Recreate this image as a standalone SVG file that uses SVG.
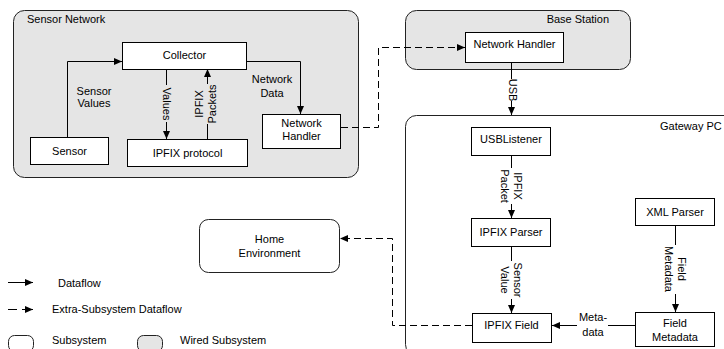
<svg xmlns="http://www.w3.org/2000/svg" width="724" height="349" viewBox="0 0 724 349">
<defs>
<marker id="arr" markerUnits="userSpaceOnUse" markerWidth="9" markerHeight="8" refX="8" refY="4" orient="auto">
<path d="M0,0.5 L8,4 L0,7.5 z" fill="#000"/>
</marker>
<style>
text{font-family:"Liberation Sans",Arial,sans-serif;font-size:11px;fill:#000}
.c{text-anchor:middle}
.sys{fill:#fff;stroke:#222;stroke-width:1}
.wired{fill:#e5e5e5;stroke:#222;stroke-width:1}
.box{fill:#fff;stroke:#000;stroke-width:1}
.flow{fill:none;stroke:#000;stroke-width:1}
.dash{fill:none;stroke:#000;stroke-width:1;stroke-dasharray:7,4}
</style>
</defs>
<rect fill="#fff" x="0" y="0" width="724" height="349"/>

<g id="sensor-network">
<rect class="wired" x="13.5" y="10.5" width="345" height="167" rx="11"/>
<text x="27" y="23">Sensor Network</text>
</g>
<g id="base-station">
<rect class="wired" x="405.5" y="10.5" width="225" height="59" rx="11"/>
<text x="609" y="23" text-anchor="end">Base Station</text>
</g>
<g id="gateway-pc">
<rect class="sys" x="405.5" y="115.5" width="340" height="240" rx="11"/>
<text x="660" y="130">Gateway PC</text>
</g>

<g id="collector">
<rect class="box" x="122.5" y="42.5" width="124" height="27"/>
<text class="c" x="184.5" y="59">Collector</text>
</g>
<g id="sensor">
<rect class="box" x="30.5" y="137.5" width="78" height="27"/>
<text class="c" x="69.5" y="155">Sensor</text>
</g>
<g id="ipfix-protocol">
<rect class="box" x="127.5" y="139.5" width="120" height="27"/>
<text class="c" x="187.5" y="157">IPFIX protocol</text>
</g>
<g id="sn-network-handler">
<rect class="box" x="262.5" y="114.5" width="78" height="34"/>
<text class="c" x="301.5" y="127">Network</text>
<text class="c" x="301.5" y="140">Handler</text>
</g>
<g id="bs-network-handler">
<rect class="box" x="465.5" y="32.5" width="98" height="30"/>
<text class="c" x="514.5" y="48">Network Handler</text>
</g>
<g id="usb-listener">
<rect class="box" x="471.5" y="127.5" width="79" height="28"/>
<text class="c" x="511" y="143">USBListener</text>
</g>
<g id="ipfix-parser">
<rect class="box" x="471.5" y="218.5" width="79" height="28"/>
<text class="c" x="511" y="236">IPFIX Parser</text>
</g>
<g id="ipfix-field">
<rect class="box" x="472.5" y="313.5" width="79" height="29"/>
<text class="c" x="511.5" y="329">IPFIX Field</text>
</g>
<g id="xml-parser">
<rect class="box" x="635.5" y="198.5" width="79" height="27"/>
<text class="c" x="675" y="216">XML Parser</text>
</g>
<g id="field-metadata">
<rect class="box" x="635.5" y="312.5" width="79" height="34"/>
<text class="c" x="675" y="327">Field</text>
<text class="c" x="675" y="341">Metadata</text>
</g>
<g id="home-environment">
<rect class="sys" x="199.5" y="219.5" width="140" height="53" rx="9"/>
<text class="c" x="269.5" y="243">Home</text>
<text class="c" x="269.5" y="257">Environment</text>
</g>

<g id="connectors">
<path class="flow" d="M67.5,137 V61.5 H122" marker-end="url(#arr)"/>
<text class="c" x="94" y="95">Sensor</text>
<text class="c" x="94" y="107">Values</text>

<path class="flow" d="M166.5,69 V85"/>
<path class="flow" d="M166.5,122 V139" marker-end="url(#arr)"/>
<text class="c" transform="translate(166.5,104) rotate(90)" x="0" y="4">Values</text>

<path class="flow" d="M207.5,139 V124"/>
<path class="flow" d="M207.5,84 V69" marker-end="url(#arr)"/>
<text class="c" transform="translate(199,104) rotate(-90)" x="0" y="4">IPFIX</text>
<text class="c" transform="translate(212,104) rotate(-90)" x="0" y="4">Packets</text>

<path class="flow" d="M246,61.5 H300.5 V114" marker-end="url(#arr)"/>
<text class="c" x="272" y="83">Network</text>
<text class="c" x="272" y="97">Data</text>

<path class="dash" d="M341,127.5 H378.5 V47.5 H465" marker-end="url(#arr)"/>

<path class="flow" d="M511.5,63 V79"/>
<path class="flow" d="M511.5,101 V115" marker-end="url(#arr)"/>
<text class="c" transform="translate(513,90) rotate(90)" x="0" y="4">USB</text>

<path class="flow" d="M511.5,156 V168"/>
<path class="flow" d="M511.5,204 V218" marker-end="url(#arr)"/>
<text class="c" transform="translate(518,186) rotate(90)" x="0" y="4">IPFIX</text>
<text class="c" transform="translate(505,186) rotate(90)" x="0" y="4">Packet</text>

<path class="flow" d="M511.5,247 V261"/>
<path class="flow" d="M511.5,299 V313" marker-end="url(#arr)"/>
<text class="c" transform="translate(518,280) rotate(90)" x="0" y="4">Sensor</text>
<text class="c" transform="translate(505,280) rotate(90)" x="0" y="4">Value</text>

<path class="flow" d="M675.5,226 V245"/>
<path class="flow" d="M675.5,294 V312" marker-end="url(#arr)"/>
<text class="c" transform="translate(682,269) rotate(90)" x="0" y="4">Field</text>
<text class="c" transform="translate(669,269) rotate(90)" x="0" y="4">Metadata</text>

<path class="flow" d="M635,325.5 H608"/>
<path class="flow" d="M577,325.5 H552" marker-end="url(#arr)"/>
<text class="c" x="593" y="321">Meta-</text>
<text class="c" x="593" y="336">data</text>

<path class="dash" d="M472,325.5 H392.5 V238.5 H340" marker-end="url(#arr)"/>
</g>

<g id="legend">
<path class="flow" d="M8,282.5 H33" marker-end="url(#arr)"/>
<text x="58" y="287">Dataflow</text>
<path class="flow" d="M8,309.5 H17"/>
<path class="flow" d="M22,309.5 H33" marker-end="url(#arr)"/>
<text x="52" y="313">Extra-Subsystem Dataflow</text>
<rect class="sys" x="8.5" y="335.5" width="25" height="16" rx="6"/>
<text x="52" y="344">Subsystem</text>
<rect class="wired" x="137.5" y="335.5" width="25" height="16" rx="6"/>
<text x="180" y="344">Wired Subsystem</text>
</g>
</svg>
